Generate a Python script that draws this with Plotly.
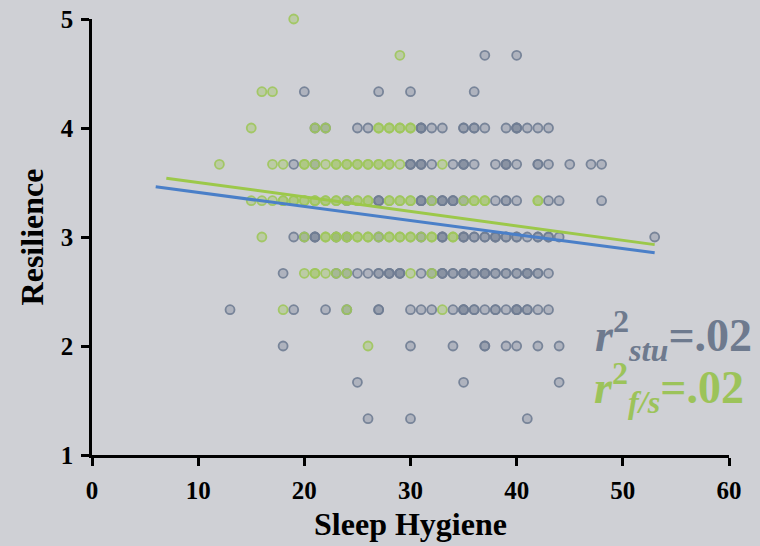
import plotly.graph_objects as go

# ---------------- data ----------------
# Students: (resilience level, sleep-hygiene scores; repeats = overlapping points)
stu_rows = {
    4.667: [37, 40],
    4.333: [20, 27, 30, 36],
    4.0:   [21, 22, 25, 26, 31, 31, 31, 32, 33, 35, 35, 36, 36, 37, 39, 40, 40, 40, 41, 42, 43],
    3.667: [19, 21, 30, 30, 30, 31, 31, 31, 32, 34, 35, 35, 35, 36, 38, 39, 39, 39, 40, 42, 42, 43, 45, 47, 48],
    3.333: [24, 27, 27, 27, 31, 31, 31, 32, 33, 33, 33, 34, 34, 34, 35, 38, 39, 39, 40, 43, 44, 48],
    3.0:   [19, 20, 21, 21, 21, 23, 24, 27, 31, 33, 33, 33, 35, 35, 35, 36, 36, 37, 37, 38, 38, 38,
            39, 39, 40, 40, 41, 42, 42, 43, 43, 44, 53],
    2.667: [18, 23, 24, 25, 26, 27, 27, 28, 28, 28, 29, 29, 29, 31, 32, 33, 33, 33, 34, 34, 35, 35, 35,
            36, 36, 37, 37, 37, 38, 38, 39, 39, 40, 40, 41, 41, 41, 42, 42, 43],
    2.333: [13, 19, 22, 24, 27, 27, 30, 31, 32, 34, 35, 35, 35, 36, 36, 37, 38, 38, 39, 40, 40, 40,
            41, 41, 42, 43],
    2.0:   [18, 30, 34, 37, 37, 39, 40, 42, 44],
    1.667: [25, 35, 44],
    1.333: [26, 30, 41],
}
# Faculty / staff
fs_rows = {
    5.0:   [19],
    4.667: [29],
    4.333: [16, 17],
    4.0:   [15, 21, 22, 27, 27, 28, 28, 29, 29, 30, 30],
    3.667: [12, 17, 18, 20, 20, 21, 22, 23, 23, 24, 24, 25, 25, 26, 26, 27, 27, 28, 28, 29, 33],
    3.333: [15, 16, 17, 18, 18, 19, 19, 20, 20, 21, 21, 22, 22, 23, 23, 24, 25, 25, 26, 26, 28, 28,
            29, 29, 30, 30, 32, 35, 36, 36, 37, 37, 42, 42],
    3.0:   [16, 20, 22, 22, 23, 23, 24, 24, 25, 25, 26, 26, 27, 28, 28, 29, 29, 30, 30, 31, 32, 32, 34, 34],
    2.667: [20, 21, 21, 22, 23, 24, 30, 32],
    2.333: [18, 24, 33],
    2.0:   [26],
}
stu_x = [x for y, xs in stu_rows.items() for x in xs]
stu_y = [y for y, xs in stu_rows.items() for x in xs]
fs_x = [x for y, xs in fs_rows.items() for x in xs]
fs_y = [y for y, xs in fs_rows.items() for x in xs]

# Fitted trend lines (end points)
stu_fit_x = [6, 53]
stu_fit_y = [3.46, 2.855]
fs_fit_x = [7, 53]
fs_fit_y = [3.54, 2.93]

x_ticks = [0, 10, 20, 30, 40, 50, 60]
y_ticks = [1, 2, 3, 4, 5]
r2_stu = ".02"
r2_fs = ".02"

# ---------------- styling ----------------
BG = "#cfd0d5"
GREEN = "#9cc35a"
FONT = "Liberation Serif"

fig = go.Figure()
fig.add_trace(go.Scatter(
    x=stu_x, y=stu_y, mode="markers", name="Students", cliponaxis=False,
    marker=dict(size=9, color="rgba(110,122,142,0.33)",
                line=dict(color="rgba(112,125,148,0.9)", width=1.8)),
))
fig.add_trace(go.Scatter(
    x=fs_x, y=fs_y, mode="markers", name="Faculty/Staff", cliponaxis=False,
    marker=dict(size=9, color="rgba(150,195,70,0.33)",
                line=dict(color="rgba(158,198,92,0.9)", width=1.8)),
))
fig.add_trace(go.Scatter(x=stu_fit_x, y=stu_fit_y, mode="lines",
                         line=dict(color="#4a7fc8", width=3), hoverinfo="skip"))
fig.add_trace(go.Scatter(x=fs_fit_x, y=fs_fit_y, mode="lines",
                         line=dict(color="#9cc84a", width=3), hoverinfo="skip"))

fig.add_annotation(
    xref="paper", yref="y", x=1.04, y=2.1, xanchor="right", yanchor="middle",
    text="<b><i>r</i><sup>2</sup><sub><i>stu</i></sub>=" + r2_stu + "</b>",
    showarrow=False, font=dict(family=FONT, size=46, color="#6e7a8e"),
)
fig.add_annotation(
    xref="paper", yref="y", x=1.027, y=1.62, xanchor="right", yanchor="middle",
    text="<b><i>r</i><sup>2</sup><sub><i>f/s</i></sub>=" + r2_fs + "</b>",
    showarrow=False, font=dict(family=FONT, size=46, color=GREEN),
)

axis_common = dict(
    showline=True, linecolor="black", linewidth=2.5, mirror=False,
    ticks="outside", ticklen=8, tickwidth=2.5, tickcolor="black",
    showgrid=False, zeroline=False, automargin=False,
    tickfont=dict(family=FONT, size=25, color="black", weight="bold"),
)
fig.update_xaxes(range=[0, 60], tickvals=x_ticks, ticklabelstandoff=3, **axis_common,
                 title=dict(text="<b>Sleep Hygiene</b>", font=dict(family=FONT, size=32, color="black"),
                            standoff=10))
fig.update_yaxes(range=[1, 5], tickvals=y_ticks, ticklabelstandoff=3, **axis_common,
                 title=dict(text="<b>Resilience</b>", font=dict(family=FONT, size=32, color="black"),
                            standoff=8))
fig.update_layout(
    width=760, height=546, showlegend=False,
    paper_bgcolor=BG, plot_bgcolor=BG,
    margin=dict(l=92, r=31, t=19, b=91),
)
fig.write_html("out.html")
